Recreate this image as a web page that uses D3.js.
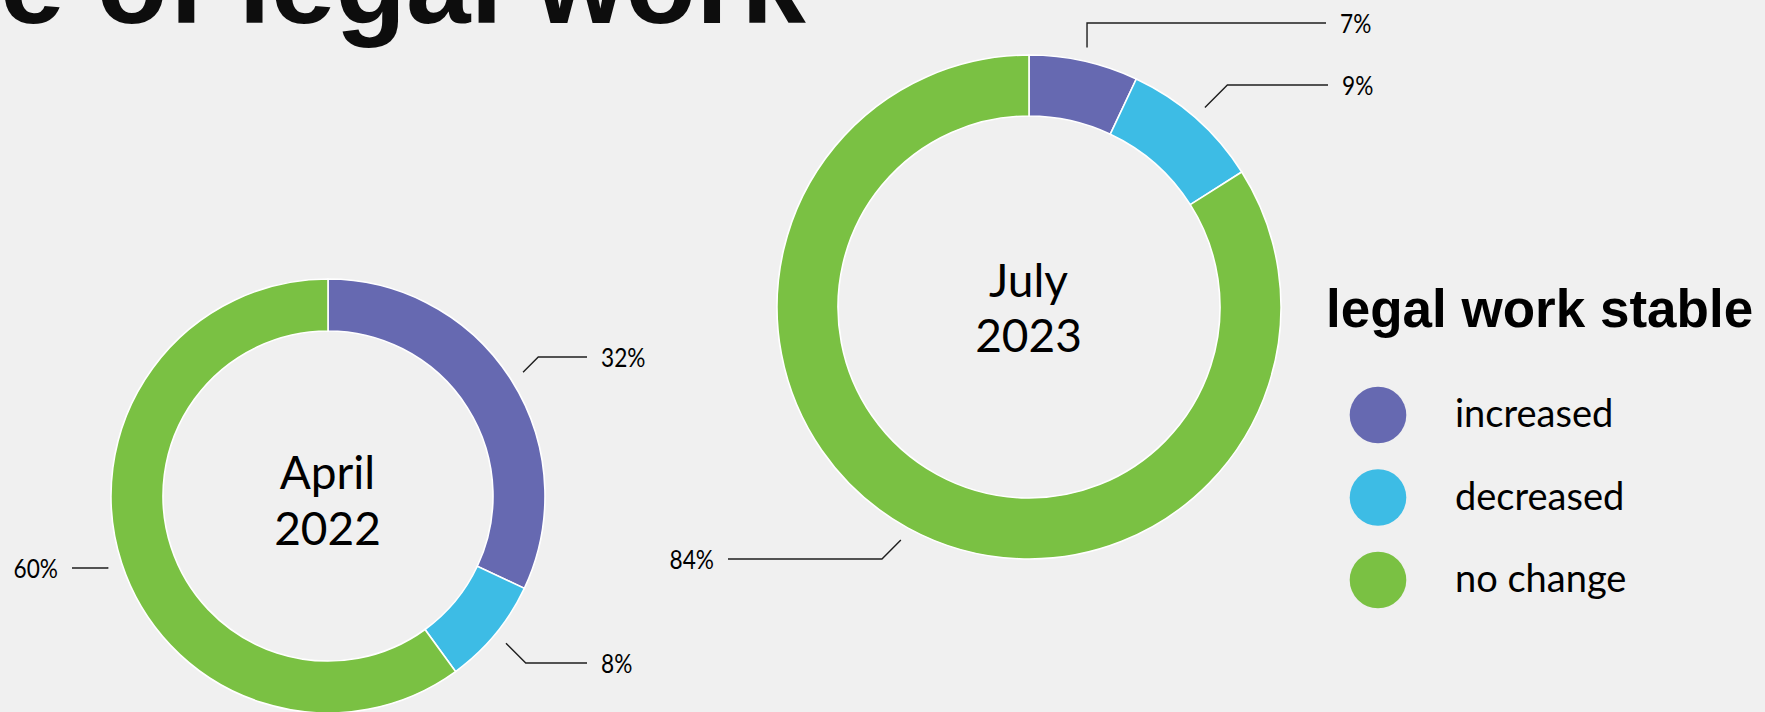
<!DOCTYPE html>
<html>
<head>
<meta charset="utf-8">
<script src="https://cdn.jsdelivr.net/npm/d3@7"></script>
<style>
  html, body { margin: 0; padding: 0; background: #f0f0f0; }
  svg { display: block; }
</style>
</head>
<body>
<svg id="chart" width="1765" height="712"></svg>
<script>
// ---- data ----
const categories = ["increased", "decreased", "no change"];
const periodNames = [["April", "2022"], ["July", "2023"]];
const april2022 = [32, 8, 60];
const july2023 = [7, 9, 84];
const legendTitle = "legal work stable";
const slideTitle = "Volume of legal work";

// ---- styling / layout ----
const palette = ["#6669b1", "#3dbce5", "#7ac143"];
const labelFont = "Lato, 'Open Sans', sans-serif";
const headFont = "'Liberation Sans', Arial, sans-serif";

const donuts = [
  {
    name: periodNames[0], values: april2022,
    cx: 328, cy: 496, outer: 217, inner: 165, nameY: [489, 545],
    leaders: [
      { lineY: 357, endX: 587, side: 1, elbow: "diag" },
      { lineY: 663, endX: 587, side: 1, elbow: "diag" },
      { lineY: 568, endX: 72, side: -1, elbow: "diag" }
    ]
  },
  {
    name: periodNames[1], values: july2023,
    cx: 1029, cy: 307, outer: 252, inner: 191, nameY: [297, 352],
    leaders: [
      { lineY: 23, endX: 1326, side: 1, elbow: "vert" },
      { lineY: 85, endX: 1328, side: 1, elbow: "diag" },
      { lineY: 559, endX: 728, side: -1, elbow: "diag" }
    ]
  }
];

const svg = d3.select("#chart");
const W = 1765, H = 712;

svg.append("rect").attr("width", W).attr("height", H).attr("fill", "#f0f0f0");

const color = d3.scaleOrdinal().domain(categories).range(palette);

// slide heading, partly running off the left edge
const heading = svg.append("text")
  .attr("y", 23)
  .attr("font-family", headFont)
  .attr("font-weight", 700)
  .attr("font-size", 116)
  .attr("fill", "#0d0d0d")
  .text(slideTitle);
const prefix = heading.node().getSubStringLength(0, 5);
heading.attr("x", -prefix);

const pie = d3.pie().sort(null).value(d => d.value);

donuts.forEach(dn => {
  const g = svg.append("g").attr("transform", `translate(${dn.cx},${dn.cy})`);
  const slices = pie(categories.map((c, i) => ({ key: c, value: dn.values[i] })));

  const arc = d3.arc().innerRadius(dn.inner).outerRadius(dn.outer);
  g.selectAll("path.slice")
    .data(slices)
    .join("path")
    .attr("class", "slice")
    .attr("d", arc)
    .attr("fill", d => color(d.data.key))
    .attr("stroke", "#ffffff")
    .attr("stroke-width", 1.6)
    .attr("stroke-linejoin", "miter");

  // leader lines start just outside the ring at each slice's mid angle
  const anchorArc = d3.arc().innerRadius(dn.outer + 14).outerRadius(dn.outer + 14);

  slices.forEach((d, i) => {
    const L = dn.leaders[i];
    const [ax, ay] = anchorArc.centroid(d);
    const sx = dn.cx + ax, sy = dn.cy + ay;
    let ex, ey = L.lineY;
    if (L.elbow === "vert") ex = sx;
    else ex = sx + L.side * Math.abs(L.lineY - sy);

    svg.append("path")
      .attr("d", d3.line()([[sx, sy], [ex, ey], [L.endX, L.lineY]]))
      .attr("fill", "none")
      .attr("stroke", "#1e1e1e")
      .attr("stroke-width", 1.4);

    const tx = L.endX + L.side * 14;
    svg.append("g")
      .attr("transform", `translate(${tx},${L.lineY + 9.5}) scale(0.84,1)`)
      .append("text")
      .attr("text-anchor", L.side > 0 ? "start" : "end")
      .attr("font-family", labelFont)
      .attr("font-size", 27)
      .attr("fill", "#000")
      .text(d.data.value + "%");
  });

  // period name in the hole
  const t = svg.append("text")
    .attr("text-anchor", "middle")
    .attr("font-family", labelFont)
    .attr("font-size", 46)
    .attr("fill", "#000");
  dn.name.forEach((line, k) => {
    t.append("tspan").attr("x", dn.cx - 0.5).attr("y", dn.nameY[k]).text(line);
  });
});

// ---- legend ----
svg.append("text")
  .attr("x", 1326)
  .attr("y", 327)
  .attr("font-family", headFont)
  .attr("font-weight", 700)
  .attr("font-size", 53)
  .attr("fill", "#000")
  .text(legendTitle);

const legendY = d3.scalePoint().domain(categories).range([415, 580]);
const legend = svg.append("g");
const items = legend.selectAll("g.item")
  .data(categories)
  .join("g")
  .attr("class", "item")
  .attr("transform", d => `translate(0,${legendY(d)})`);

items.append("circle")
  .attr("cx", 1378)
  .attr("cy", 0)
  .attr("r", 28.3)
  .attr("fill", d => color(d));

items.append("text")
  .attr("x", 1455)
  .attr("y", 12)
  .attr("font-family", labelFont)
  .attr("font-size", 38)
  .attr("fill", "#000")
  .text(d => d);
</script>
</body>
</html>
